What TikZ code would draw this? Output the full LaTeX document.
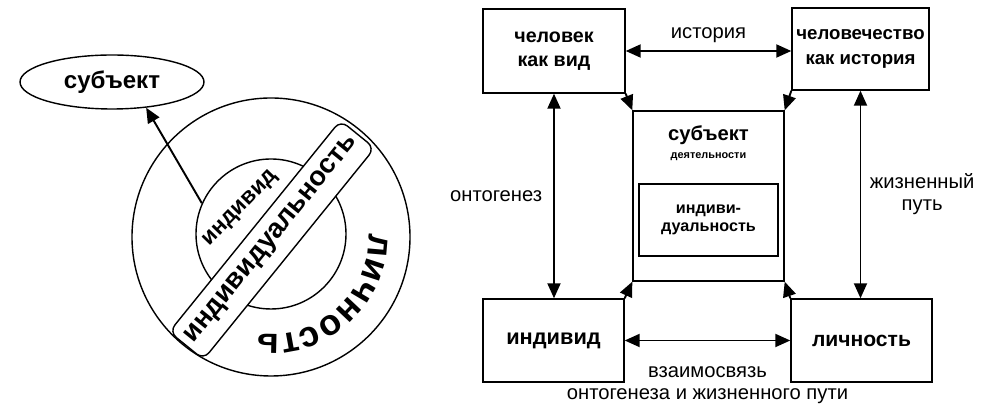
\documentclass[tikz,border=0pt]{standalone}
\usepackage{fontspec}
\setmainfont{Liberation Sans}
\usetikzlibrary{shapes.geometric,arrows.meta,decorations.text}

\tikzset{
  box/.style={draw,thick,rectangle,inner sep=0pt,align=center,font=\bfseries},
  arr/.style={line width=1.1pt,-{Triangle[length=3mm,width=2.6mm]}},
  dblarr/.style={line width=1.1pt,{Triangle[length=3mm,width=2.6mm]}-{Triangle[length=3mm,width=2.6mm]}},
  lbl/.style={font=\fontsize{11.5}{12.5}\selectfont,align=center},
}

\begin{document}
\begin{tikzpicture}
\useasboundingbox (0,0) rectangle (19.96,8.12);

% left part: rings
\node[ellipse,draw,thick,minimum width=3.68cm,minimum height=1.08cm,inner sep=0pt,font=\bfseries\fontsize{13.7}{13.7}\selectfont] (subjell) at (2.24,6.48) {субъект};
\node[circle,draw,thick,minimum size=5.56cm,inner sep=0pt] (outcirc) at (5.42,3.38) {};
\node[circle,draw,thick,minimum size=3.0cm,inner sep=0pt] (incirc) at (5.42,3.44) {};
\node[draw,thick,fill=white,rounded corners=5pt,rotate=51,minimum width=5.44cm,minimum height=0.88cm,inner sep=0pt,font=\bfseries\fontsize{15.5}{15.5}\selectfont] (band) at (5.44,3.32) {индивидуальность};
\node[rotate=46,font=\bfseries\fontsize{12.8}{12.8}\selectfont] (indtxt) at (4.82,3.94) {индивид};
\path[decorate,decoration={text along path,text align=center,
  text={|\bfseries\fontsize{20.5}{20.5}\selectfont|личность}}]
  (outcirc.center) ++(2:1.95) arc[start angle=2,end angle=-98,radius=1.95];
\draw[arr] (incirc.156) -- (subjell.-37);

% right part: boxes
\node[box,minimum width=2.84cm,minimum height=1.68cm,font=\bfseries\fontsize{11.2}{14}\selectfont] (vid) at (11.08,7.10) {человек\\как вид};
\node[box,minimum width=2.74cm,minimum height=1.64cm,font=\bfseries\fontsize{10.6}{14}\selectfont] (hist) at (17.21,7.14) {человечество\\как история};
\node[box,minimum width=3.02cm,minimum height=3.40cm] (subjbox) at (14.17,4.20) {};
\node[font=\bfseries\fontsize{11.5}{11.5}\selectfont] (subjtitle) at (14.17,5.42) {субъект};
\node[font=\bfseries\fontsize{6.2}{6.2}\selectfont] (subjsub) at (14.17,4.98) {деятельности};
\node[box,minimum width=2.78cm,minimum height=1.44cm,font=\bfseries\fontsize{9.2}{10.5}\selectfont] (indbox) at (14.17,3.72) {индиви-\\дуальность};
\node[box,minimum width=2.82cm,minimum height=1.66cm,font=\bfseries\fontsize{12.4}{12.4}\selectfont] (ind) at (11.07,1.31) {индивид};
\node[box,minimum width=2.82cm,minimum height=1.66cm,font=\bfseries\fontsize{12}{12}\selectfont] (lich) at (17.23,1.31) {личность};

% connectors
\draw[dblarr] (vid.east) -- (vid.east -| hist.west) node[midway,above=0.02cm,lbl] (histlbl) {история};
\draw[dblarr] (vid.south) -- (vid.south |- ind.north) node[midway,left=0.1cm,lbl] (ontolbl) {онтогенез};
\draw[dblarr] (hist.south) -- (hist.south |- lich.north) node[midway,right=0.05cm,lbl] (lifelbl) {жизненный\\путь};
\draw[dblarr] (ind.east) -- (ind.east -| lich.west) node[midway,below=0.38cm,lbl] (linklbl) {взаимосвязь\\онтогенеза и жизненного пути};

\draw[arr] (vid.south east) -- (subjbox.north west);
\draw[arr] (hist.south west) -- (subjbox.north east);
\draw[arr] (ind.north east) -- (subjbox.south west);
\draw[arr] (lich.north west) -- (subjbox.south east);

\end{tikzpicture}
\end{document}
